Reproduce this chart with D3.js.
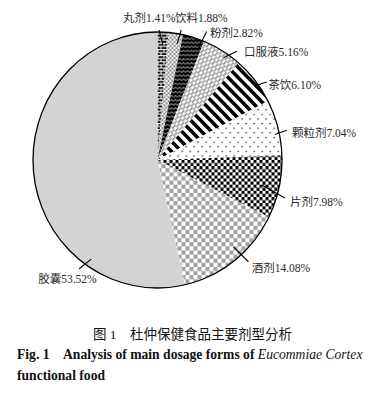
<!DOCTYPE html>
<html><head><meta charset="utf-8">
<script src="https://cdn.jsdelivr.net/npm/d3@7"></script>
<style>
html,body{margin:0;padding:0;background:#fff;}
svg{display:block;}
</style></head>
<body>
<script>
// ---- data ----
const categories = ["丸剂","饮料","粉剂","口服液","茶饮","颗粒剂","片剂","酒剂","胶囊"];
const values = [1.41, 1.88, 2.82, 5.16, 6.10, 7.04, 7.98, 14.08, 53.52];
const captionCN = "图 1　杜仲保健食品主要剂型分析";
const captionEN1 = "Fig. 1";
const captionEN2 = "Analysis of main dosage forms of ";
const captionEN3 = "Eucommiae Cortex";
const captionEN4 = "functional food";

// ---- layout (leader crossing angle, leader direction, inner/outer lengths, text offset) ----
const leaderLayout = [
  {cross:1,     dir:-14,   inn:14, out:2,   dx:-36.2, dy:-8.1},
  {cross:10.4,  dir:16,    inn:10, out:4.5, dx:-6.2,  dy:-7.8},
  {cross:21,    dir:27,    inn:8,  out:10,  dx:3.4,   dy:5.4},
  {cross:35,    dir:65,    inn:6,  out:9,   dx:7,     dy:5},
  {cross:54,    dir:72,    inn:4,  out:9,   dx:1.5,   dy:7},
  {cross:77.8,  dir:70,    inn:4.5,out:8,   dx:5.3,   dy:6.7},
  {cross:105.3, dir:119.5, inn:18, out:8.4, dx:5,     dy:8},
  {cross:137.7, dir:135,   inn:11, out:10,  dx:3.3,   dy:10.3},
  {cross:215.6, dir:231.2, inn:8,  out:7.5, dx:-41,   dy:14.2}
];

const W = 385, H = 397;
const cx = 157.5, cy = 160, rx = 124.5, ry = 128;

const svg = d3.select("body").append("svg").attr("width", W).attr("height", H);
const defs = svg.append("defs");

function pat(id, w, h, bg, draw, transform) {
  const p = defs.append("pattern").attr("id", id).attr("patternUnits", "userSpaceOnUse")
    .attr("width", w).attr("height", h);
  if (transform) p.attr("patternTransform", transform);
  p.append("rect").attr("width", w).attr("height", h).attr("fill", bg);
  draw(p);
}
// 丸剂 brick
pat("p0", 6, 6, "#111", p => {
  p.append("rect").attr("x",0).attr("y",0).attr("width",6).attr("height",1).attr("fill","#fff");
  p.append("rect").attr("x",0).attr("y",0).attr("width",1).attr("height",3).attr("fill","#fff");
  p.append("rect").attr("x",0).attr("y",3).attr("width",6).attr("height",1).attr("fill","#fff");
  p.append("rect").attr("x",3).attr("y",3).attr("width",1).attr("height",3).attr("fill","#fff");
});
// 饮料 fine gray checker
pat("p1", 4, 4, "#fff", p => {
  p.append("rect").attr("x",0).attr("y",0).attr("width",2).attr("height",2).attr("fill","#8a8a8a");
  p.append("rect").attr("x",2).attr("y",2).attr("width",2).attr("height",2).attr("fill","#8a8a8a");
});
// 粉剂 black with white zigzag
pat("p2", 4, 4, "#000", p => {
  p.append("path").attr("d","M0,3 L2,1 L4,3").attr("stroke","#fff").attr("stroke-width",0.7).attr("fill","none");
});
// 口服液 gray diagonal dashes
pat("p3", 8, 4, "#fff", p => {
  p.append("rect").attr("x",0).attr("y",0).attr("width",5).attr("height",1.6).attr("fill","#9a9a9a");
  p.append("rect").attr("x",4).attr("y",2).attr("width",4).attr("height",1.6).attr("fill","#9a9a9a");
  p.append("rect").attr("x",0).attr("y",2).attr("width",1).attr("height",1.6).attr("fill","#9a9a9a");
}, "rotate(-45)");
// 茶饮 wide black diagonal stripes
pat("p4", 7, 7, "#fff", p => {
  p.append("rect").attr("x",0).attr("y",0).attr("width",3.5).attr("height",7).attr("fill","#000");
}, "rotate(-45)");
// 颗粒剂 dots
pat("p5", 8, 9, "#fff", p => {
  p.append("rect").attr("x",0).attr("y",0).attr("width",1.2).attr("height",1.2).attr("fill","#000");
  p.append("rect").attr("x",4).attr("y",4.5).attr("width",1.2).attr("height",1.2).attr("fill","#000");
});
// 片剂 black/white checker
pat("p6", 6, 6, "#fff", p => {
  p.append("rect").attr("x",0).attr("y",0).attr("width",3).attr("height",3).attr("fill","#000");
  p.append("rect").attr("x",3).attr("y",3).attr("width",3).attr("height",3).attr("fill","#000");
});
// 酒剂 gray/white checker
pat("p7", 8, 8, "#fff", p => {
  p.append("rect").attr("x",0).attr("y",0).attr("width",4).attr("height",4).attr("fill","#a0a0a0");
  p.append("rect").attr("x",4).attr("y",4).attr("width",4).attr("height",4).attr("fill","#a0a0a0");
});
const fills = ["url(#p0)","url(#p1)","url(#p2)","url(#p3)","url(#p4)","url(#p5)","url(#p6)","url(#p7)","#d3d3d3"];

const pie = d3.pie().sort(null).value(d => d.v);
const arcs = pie(categories.map((c, i) => ({c, v: values[i], i})));
const arc = d3.arc().innerRadius(0).outerRadius(rx);

const g = svg.append("g").attr("transform", `translate(${cx},${cy}) scale(1,${ry/rx})`);
g.selectAll("path.slice").data(arcs).enter().append("path")
  .attr("class","slice")
  .attr("d", arc)
  .attr("fill", d => fills[d.data.i]);
g.append("ellipse").attr("cx",0).attr("cy",0).attr("rx",rx).attr("ry",rx)
  .attr("fill","none").attr("stroke","#000").attr("stroke-width",1.3)
  .attr("vector-effect","non-scaling-stroke");

// leaders & labels
const fmt = d3.format(".2f");
const rad = Math.PI / 180;
const lab = svg.append("g");
arcs.forEach((a, i) => {
  const L = leaderLayout[i];
  const px = cx + rx * Math.sin(L.cross * rad), py = cy - ry * Math.cos(L.cross * rad);
  const ux = Math.sin(L.dir * rad), uy = -Math.cos(L.dir * rad);
  const x1 = px - L.inn * ux, y1 = py - L.inn * uy;
  const x2 = px + L.out * ux, y2 = py + L.out * uy;
  lab.append("line").attr("x1",x1).attr("y1",y1).attr("x2",x2).attr("y2",y2)
    .attr("stroke","#000").attr("stroke-width",1.1);
  lab.append("text").attr("x", x2 + L.dx).attr("y", y2 + L.dy)
    .attr("font-family","'Liberation Serif','Noto Sans CJK SC',serif")
    .attr("font-size", 11.5).attr("fill","#2a2a2a")
    .text(a.data.c + fmt(a.data.v) + "%");
});

// captions
svg.append("text").attr("x", 93).attr("y", 338.5)
  .attr("font-family","'Liberation Serif','Noto Sans CJK SC',serif")
  .attr("font-size", 13.5).attr("fill","#111").text(captionCN);
const t2 = svg.append("text").attr("x", 17).attr("y", 359)
  .attr("font-family","'Liberation Serif',serif").attr("font-size", 13.6).attr("fill","#111");
t2.append("tspan").attr("font-weight","bold").text(captionEN1);
t2.append("tspan").attr("x", 63).attr("font-weight","bold").text(captionEN2);
t2.append("tspan").attr("font-style","italic").text(captionEN3);
svg.append("text").attr("x", 17).attr("y", 380)
  .attr("font-family","'Liberation Serif',serif").attr("font-size", 13.6)
  .attr("font-weight","bold").attr("fill","#111").text(captionEN4);
</script>
</body></html>
